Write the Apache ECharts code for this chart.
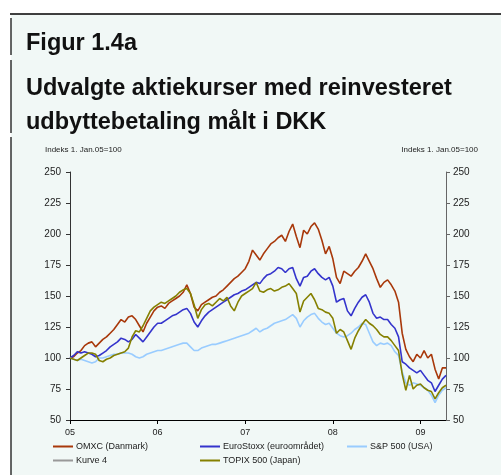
<!DOCTYPE html>
<html><head><meta charset="utf-8">
<script src="https://cdn.jsdelivr.net/npm/echarts@6/dist/echarts.min.js"></script>
<style>html,body{margin:0;padding:0;background:#fff;}#c{width:501px;height:475px;}</style>
</head><body><div id="c"></div>
<script>
// half-monthly sample dates (categories), 2005-01-01 .. 2009-04-16
const dates = [];
for (let y = 2005; y <= 2009; y++) {
  for (let m = 1; m <= 12; m++) {
    for (const d of ['01', '16']) {
      dates.push(y + '-' + String(m).padStart(2, '0') + '-' + d);
    }
  }
}
dates.splice(104);
const yearLabels = ['05', '06', '07', '08', '09'];
const yTicks = [50, 75, 100, 125, 150, 175, 200, 225, 250];

const omxc = [100,101,104,106,110,112,113,109,112,115,117,120,123,127,131,129,133,134,131,126,121,128,133,138,
141,142,140,144,146,148,150,153,159,152,141,138,143,145,147,149,150,153,155,158,161,164,166,169,
172,178,187,183,179,184,188,192,194,197,199,194,202,208,198,189,203,200,206,209,204,195,184,190,
180,165,160,170,168,166,170,173,178,184,178,172,164,157,161,163,159,154,145,120,107,101,97,103,
100,106,100,103,91,83,92,92];
const euro = [100,102,105,104,105,104,103,101,102,104,106,109,111,113,116,115,113,115,119,116,113,117,121,125,
128,128,130,132,134,135,137,139,140,136,129,125,130,134,137,139,141,143,145,147,149,151,152,154,
155,157,159,161,160,164,167,168,170,173,172,169,172,173,164,158,165,166,170,172,168,165,163,165,
158,145,147,148,138,134,140,145,149,151,145,136,132,133,131,131,127,124,117,97,95,92,90,88,
90,86,82,80,73,78,83,86];
const sp500 = [100,99,98,99,98,97,96,97,100,100,101,102,103,103,104,104,104,103,101,100,101,103,104,105,
106,106,107,108,109,110,111,112,112,109,106,106,108,109,110,111,111,112,113,114,115,116,117,118,
119,120,122,124,121,123,124,126,128,129,130,131,133,135,132,125,130,133,135,136,132,129,127,128,
124,120,118,117,118,120,123,125,128,127,120,113,110,112,111,112,110,105,102,89,80,78,80,79,
78,76,74,70,64,70,74,76];
const kurve4 = [];
const topix = [100,99,98,100,102,104,104,103,98,97,99,100,102,103,104,105,108,117,122,121,126,132,138,141,
143,145,144,146,148,150,153,155,156,152,143,132,139,143,144,142,145,148,146,149,142,138,145,150,
152,154,156,161,154,153,155,156,154,155,157,158,160,156,152,137,146,149,152,147,140,139,137,136,
132,120,123,121,114,107,116,122,127,131,128,126,123,119,117,117,114,110,106,87,74,86,75,78,
79,76,74,73,67,72,76,78];

const names = ['OMXC (Danmark)', 'EuroStoxx (euroområdet)', 'S&P 500 (USA)', 'Kurve 4', 'TOPIX 500 (Japan)'];
const colors = ['#a8380a', '#3434cc', '#99ccff', '#999999', '#858000'];
const values = [omxc, euro, sp500, kurve4, topix];

const FONT = 'Liberation Sans, Arial, sans-serif';
const isYear = (i) => i % 24 === 0;

const chart = echarts.init(document.getElementById('c'), null, {renderer: 'canvas'});
const legendPos = [[53, 442], [200, 442], [347, 442], [53, 456], [200, 456]];
const titleStyle = {fontFamily: FONT, fontSize: 23.5, fontWeight: 'bold', color: '#111'};
chart.setOption({
  animation: false,
  backgroundColor: '#ffffff',
  textStyle: {fontFamily: FONT},
  graphic: [
    {type: 'rect', z: -10, shape: {x: 11, y: 14, width: 490, height: 461}, style: {fill: '#f1f8f6'}},
    {type: 'line', z: 10, shape: {x1: 10, y1: 14, x2: 501, y2: 14}, style: {stroke: '#000', lineWidth: 1.5}},
    {type: 'line', z: 10, shape: {x1: 11, y1: 18, x2: 11, y2: 55}, style: {stroke: '#000', lineWidth: 1.2}},
    {type: 'line', z: 10, shape: {x1: 11, y1: 60, x2: 11, y2: 133}, style: {stroke: '#000', lineWidth: 1.2}},
    {type: 'line', z: 10, shape: {x1: 11, y1: 137, x2: 11, y2: 475}, style: {stroke: '#000', lineWidth: 1.2}}
  ],
  title: [
    {text: 'Figur 1.4a', left: 26, top: 32, padding: 0, textStyle: titleStyle},
    {text: 'Udvalgte aktiekurser med reinvesteret\nudbyttebetaling målt i DKK', left: 26, top: 72, padding: 0,
      textStyle: Object.assign({}, titleStyle, {lineHeight: 34})},
    {text: 'Indeks 1. Jan.05=100', left: 45, top: 146, padding: 0,
      textStyle: {fontFamily: FONT, fontSize: 8, fontWeight: 'normal', color: '#222'}},
    {text: 'Indeks 1. Jan.05=100', right: 23, top: 146, padding: 0,
      textStyle: {fontFamily: FONT, fontSize: 8, fontWeight: 'normal', color: '#222'}}
  ],
  legend: names.map((n, k) => ({
    data: [n], left: legendPos[k][0], top: legendPos[k][1], padding: 0,
    icon: 'rect', itemWidth: 20, itemHeight: 2, itemGap: 2,
    textStyle: {fontFamily: FONT, fontSize: 9, color: '#222', padding: [0, 0, 0, -2]}
  })),
  grid: {left: 70, right: 55, top: 172, bottom: 55, containLabel: false},
  xAxis: {
    type: 'category', data: dates, boundaryGap: false,
    axisLine: {lineStyle: {color: '#000', width: 1}},
    axisTick: {interval: (i) => isYear(i), length: 4, lineStyle: {color: '#000'}},
    axisLabel: {interval: (i) => isYear(i), formatter: (v) => yearLabels[Number(v.slice(0, 4)) - 2005],
      fontSize: 9, color: '#222', margin: 8},
    splitLine: {show: false}
  },
  yAxis: [
    {type: 'value', position: 'left', min: 50, max: 250, interval: 25,
      axisLine: {show: true, lineStyle: {color: '#333'}},
      axisTick: {show: true, length: 4, lineStyle: {color: '#333'}},
      axisLabel: {fontSize: 10, color: '#222', margin: 9}, splitLine: {show: false}},
    {type: 'value', position: 'right', min: 50, max: 250, interval: 25,
      axisLine: {show: true, lineStyle: {color: '#666'}},
      axisTick: {show: true, length: 4, lineStyle: {color: '#666'}},
      axisLabel: {fontSize: 10, color: '#222', margin: 7}, splitLine: {show: false}}
  ],
  series: names.map((n, k) => ({
    name: n, type: 'line', data: values[k], yAxisIndex: 0,
    symbol: 'none', color: colors[k], lineStyle: {width: 1.6, color: colors[k]}
  }))
});
</script></body></html>
